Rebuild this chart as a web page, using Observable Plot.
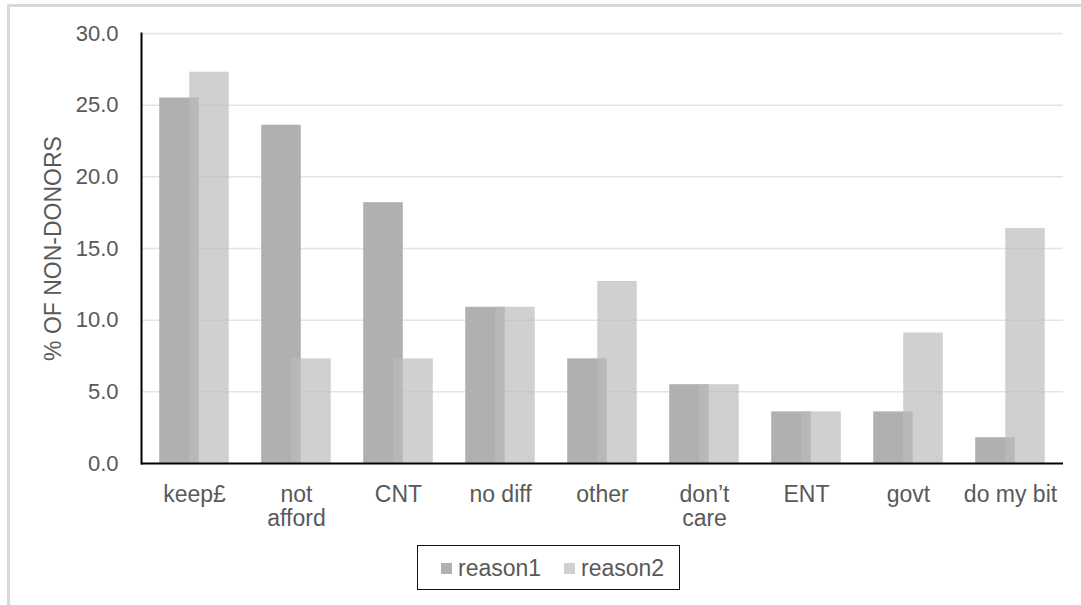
<!DOCTYPE html>
<html>
<head>
<meta charset="utf-8">
<script src="https://cdn.jsdelivr.net/npm/d3@7"></script>
<script src="https://cdn.jsdelivr.net/npm/@observablehq/plot@0.6"></script>
<style>
  html, body { margin: 0; padding: 0; width: 1081px; height: 605px; overflow: hidden; background: #fff; }
  body { position: relative; font-family: "Liberation Sans", Arial, sans-serif; }
  #border { position: absolute; left: 7px; top: 4px; width: 1074px; height: 601px; border-left: 3px solid #d9d9d9; border-top: 3px solid #d9d9d9; box-sizing: border-box; }
  #chart { position: absolute; left: 0; top: 0; }
  #legend { position: absolute; left: 417px; top: 545px; width: 263px; height: 45px; border: 1.5px solid #111; box-sizing: border-box; }
  .sw { position: absolute; width: 11px; height: 11px; }
  .lt { position: absolute; font-size: 23px; color: #595959; line-height: 1; white-space: nowrap; }
</style>
</head>
<body>
<div id="border"></div>
<div id="chart"></div>
<div id="legend"></div>
<script>
// Reasons given for not donating, share of non-donors (%)
const categories = ["keep£", "not\nafford", "CNT", "no diff", "other", "don’t\ncare", "ENT", "govt", "do my bit"];
const reason1 = [25.5, 23.6, 18.2, 10.9, 7.3, 5.5, 3.6, 3.6, 1.8];
const reason2 = [27.3, 7.3, 7.3, 10.9, 12.7, 5.5, 3.6, 9.1, 16.4];
const seriesNames = ["reason1", "reason2"];
const yTicks = [0, 5, 10, 15, 20, 25, 30];
const yLabel = "% OF NON-DONORS";

const font = "'Liberation Sans', Arial, sans-serif";
const textColor = "#595959";

const rows1 = categories.map((c, i) => ({category: c, value: reason1[i], series: seriesNames[0]}));
const rows2 = categories.map((c, i) => ({category: c, value: reason2[i], series: seriesNames[1]}));

const barWidth = 40;
const bandWidth = (1081 - 141 - 18) / categories.length;
const inset = (bandWidth - barWidth) / 2;

const chart = Plot.plot({
  width: 1081,
  height: 540,
  marginLeft: 141,
  marginRight: 18,
  marginTop: 33,
  marginBottom: 77,
  style: {fontFamily: font, color: textColor, background: "transparent", overflow: "visible"},
  x: {domain: categories, padding: 0, label: null},
  y: {domain: [0, 30], label: null},
  marks: [
    Plot.gridY({ticks: yTicks.slice(1), stroke: "#e4e4e4", strokeOpacity: 1, strokeWidth: 1.5}),
    Plot.barY(rows1, {x: "category", y: "value", fill: "#b0b0b0", dx: -15, insetLeft: inset, insetRight: inset}),
    Plot.barY(rows2, {x: "category", y: "value", fill: "#bcbcbc", fillOpacity: 0.7, dx: 15, insetLeft: inset, insetRight: inset}),
    Plot.ruleY([0], {stroke: "#000", strokeWidth: 2}),
    Plot.frame({anchor: "left", stroke: "#000", strokeWidth: 2}),
    Plot.axisY({ticks: yTicks, tickSize: 0, tickPadding: 23, tickFormat: d3.format(".1f"), fontSize: 22, fill: textColor, label: null}),
    Plot.axisX({tickSize: 0, tickPadding: 21, fontSize: 23, lineHeight: 1.05, fill: textColor, label: null}),
    Plot.text([yLabel], {frameAnchor: "left", textAnchor: "middle", dx: -88, rotate: -90, fontSize: 23, fill: textColor})
  ]
});
document.getElementById("chart").appendChild(chart);

// Legend box below the chart
const legend = document.getElementById("legend");
const swatches = [
  {name: seriesNames[0], fill: "#b0b0b0", opacity: 1, sx: 23, tx: 40},
  {name: seriesNames[1], fill: "#bcbcbc", opacity: 0.7, sx: 146, tx: 163}
];
for (const s of swatches) {
  const sw = document.createElement("div");
  sw.className = "sw";
  sw.style.left = s.sx + "px";
  sw.style.top = "17px";
  sw.style.background = s.fill;
  sw.style.opacity = s.opacity;
  legend.appendChild(sw);
  const t = document.createElement("div");
  t.className = "lt";
  t.style.left = s.tx + "px";
  t.style.top = "11px";
  t.textContent = s.name;
  legend.appendChild(t);
}
</script>
</body>
</html>
